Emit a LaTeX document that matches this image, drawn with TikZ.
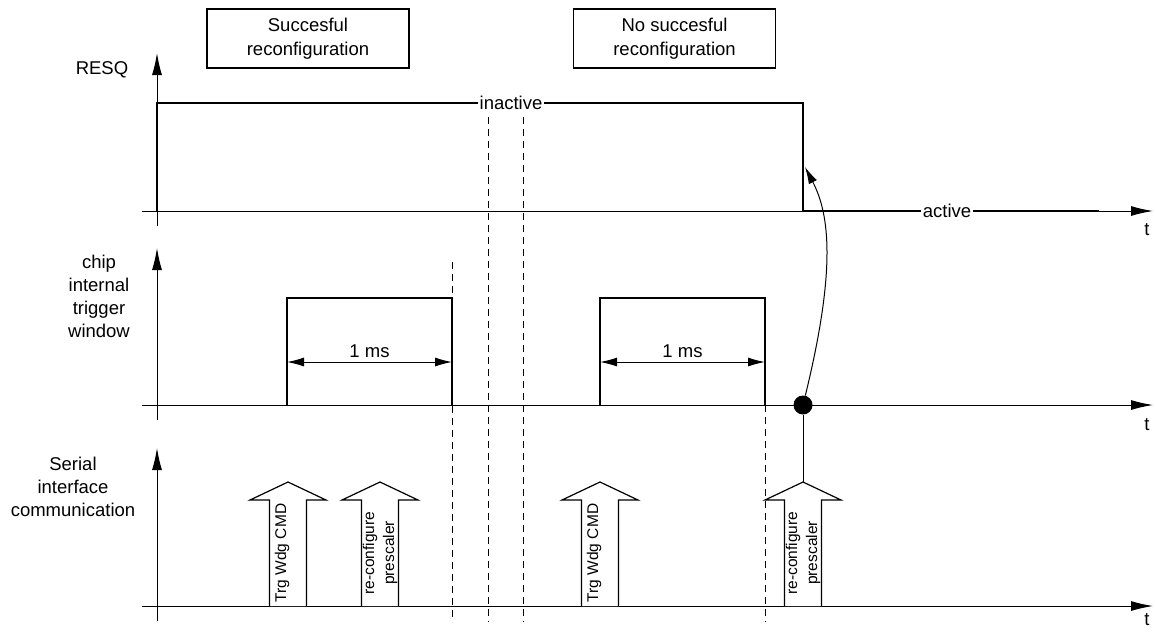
\documentclass[tikz,border=0pt]{standalone}
\usepackage{fontspec}
\setmainfont{Liberation Sans}
\usetikzlibrary{arrows.meta}

\tikzset{
  sig/.style={line width=2pt},
  axis/.style={line width=1pt,-{Latex[length=22pt,width=10pt]}},
  guide/.style={line width=0.9pt,dash pattern=on 7pt off 5pt},
  span/.style={line width=1pt,{Latex[length=17pt,width=9pt]}-{Latex[length=17pt,width=9pt]}},
  caption/.style={draw,line width=1.3pt,minimum width=202pt,minimum height=59pt,
    align=center,font=\fontsize{18.5}{24}\selectfont},
  lbl/.style={align=center,font=\fontsize{18.5}{23}\selectfont},
  cmdtxt/.style={rotate=90,align=center,inner sep=0pt,font=\fontsize{15.5}{20}\selectfont}
}

\begin{document}
\begin{tikzpicture}[x=1pt,y=-1pt]
\useasboundingbox (0,0) rectangle (1155,633);

% headings
\node[caption] (ok) at (308,38.5) {Succesful\\reconfiguration};
\node[caption] (nok) at (674.5,38.5) {No succesful\\reconfiguration};

% signal names
\node[lbl] (resq) at (102,70) {RESQ};
\node[lbl] (chip) at (99,296) {chip\\internal\\trigger\\window};
\node[lbl] (serial) at (73,487) {Serial\\interface\\communication};

% axes
\foreach \name/\y/\top/\ty in {a/211/53/230, b/405/248/425, c/606/448/620} {
  \coordinate (\name0) at (157,\y+15);
  \coordinate (\name1) at (157,\top);
  \coordinate (\name2) at (142,\y);
  \coordinate (\name3) at (1153,\y);
  \draw[axis] (\name0) -- (\name1);
  \draw[axis] (\name2) -- (\name3);
  \node[lbl] (t\name) at (1147,\ty) {t};
}

% guide lines
\foreach \x/\ya in {452/262, 488/117, 523/117, 765/405}
  \draw[guide] (\x,\ya) -- (\x,622);

% RESQ
\draw[sig] (157,211) -- (157,103) -- (803,103) -- (803,211) -- (1099,211);
\node[lbl,fill=white,inner sep=2pt] (inact) at (511,103) {inactive};
\node[lbl,fill=white,inner sep=2pt] (act) at (947,211) {active};
\coordinate (fall) at (805,167);

% trigger windows
\draw[sig] (287,405) -- (287,298) -- (452,298) -- (452,405);
\draw[sig] (600,405) -- (600,298) -- (765,298) -- (765,405);
\coordinate (w1a) at (287,362);
\coordinate (w1b) at (452,362);
\coordinate (w2a) at (600,362);
\coordinate (w2b) at (765,362);
\draw[span] (w1a) -- node[lbl,above=0pt] (ms1) {1 ms} (w1b);
\draw[span] (w2a) -- node[lbl,above=0pt] (ms2) {1 ms} (w2b);

% serial commands
\foreach \x/\dx/\name/\txt in {288/-6/cmdA/{Trg Wdg CMD}, 380/0/cfgA/{re-configure\\prescaler},
                               600/-6/cmdB/{Trg Wdg CMD}, 803/0/cfgB/{re-configure\\prescaler}} {
  \draw[line width=1.2pt,fill=white] (\x-18.5,606) -- (\x-18.5,500) -- (\x-38,500) -- (\x,482)
    -- (\x+38,500) -- (\x+18.5,500) -- (\x+18.5,606);
  \node[cmdtxt] (\name) at (\x+\dx,553) {\txt};
  \coordinate (\name tip) at (\x,482);
}

% timeout
\node[circle,fill,inner sep=0pt,minimum size=19pt] (trig) at (803,405) {};
\draw[line width=1pt] (trig) -- (cfgBtip);
\draw[line width=1pt,-{Latex[length=17pt,width=9pt]}] (trig) .. controls (836,270) and (830,215) .. (fall);
\end{tikzpicture}
\end{document}
